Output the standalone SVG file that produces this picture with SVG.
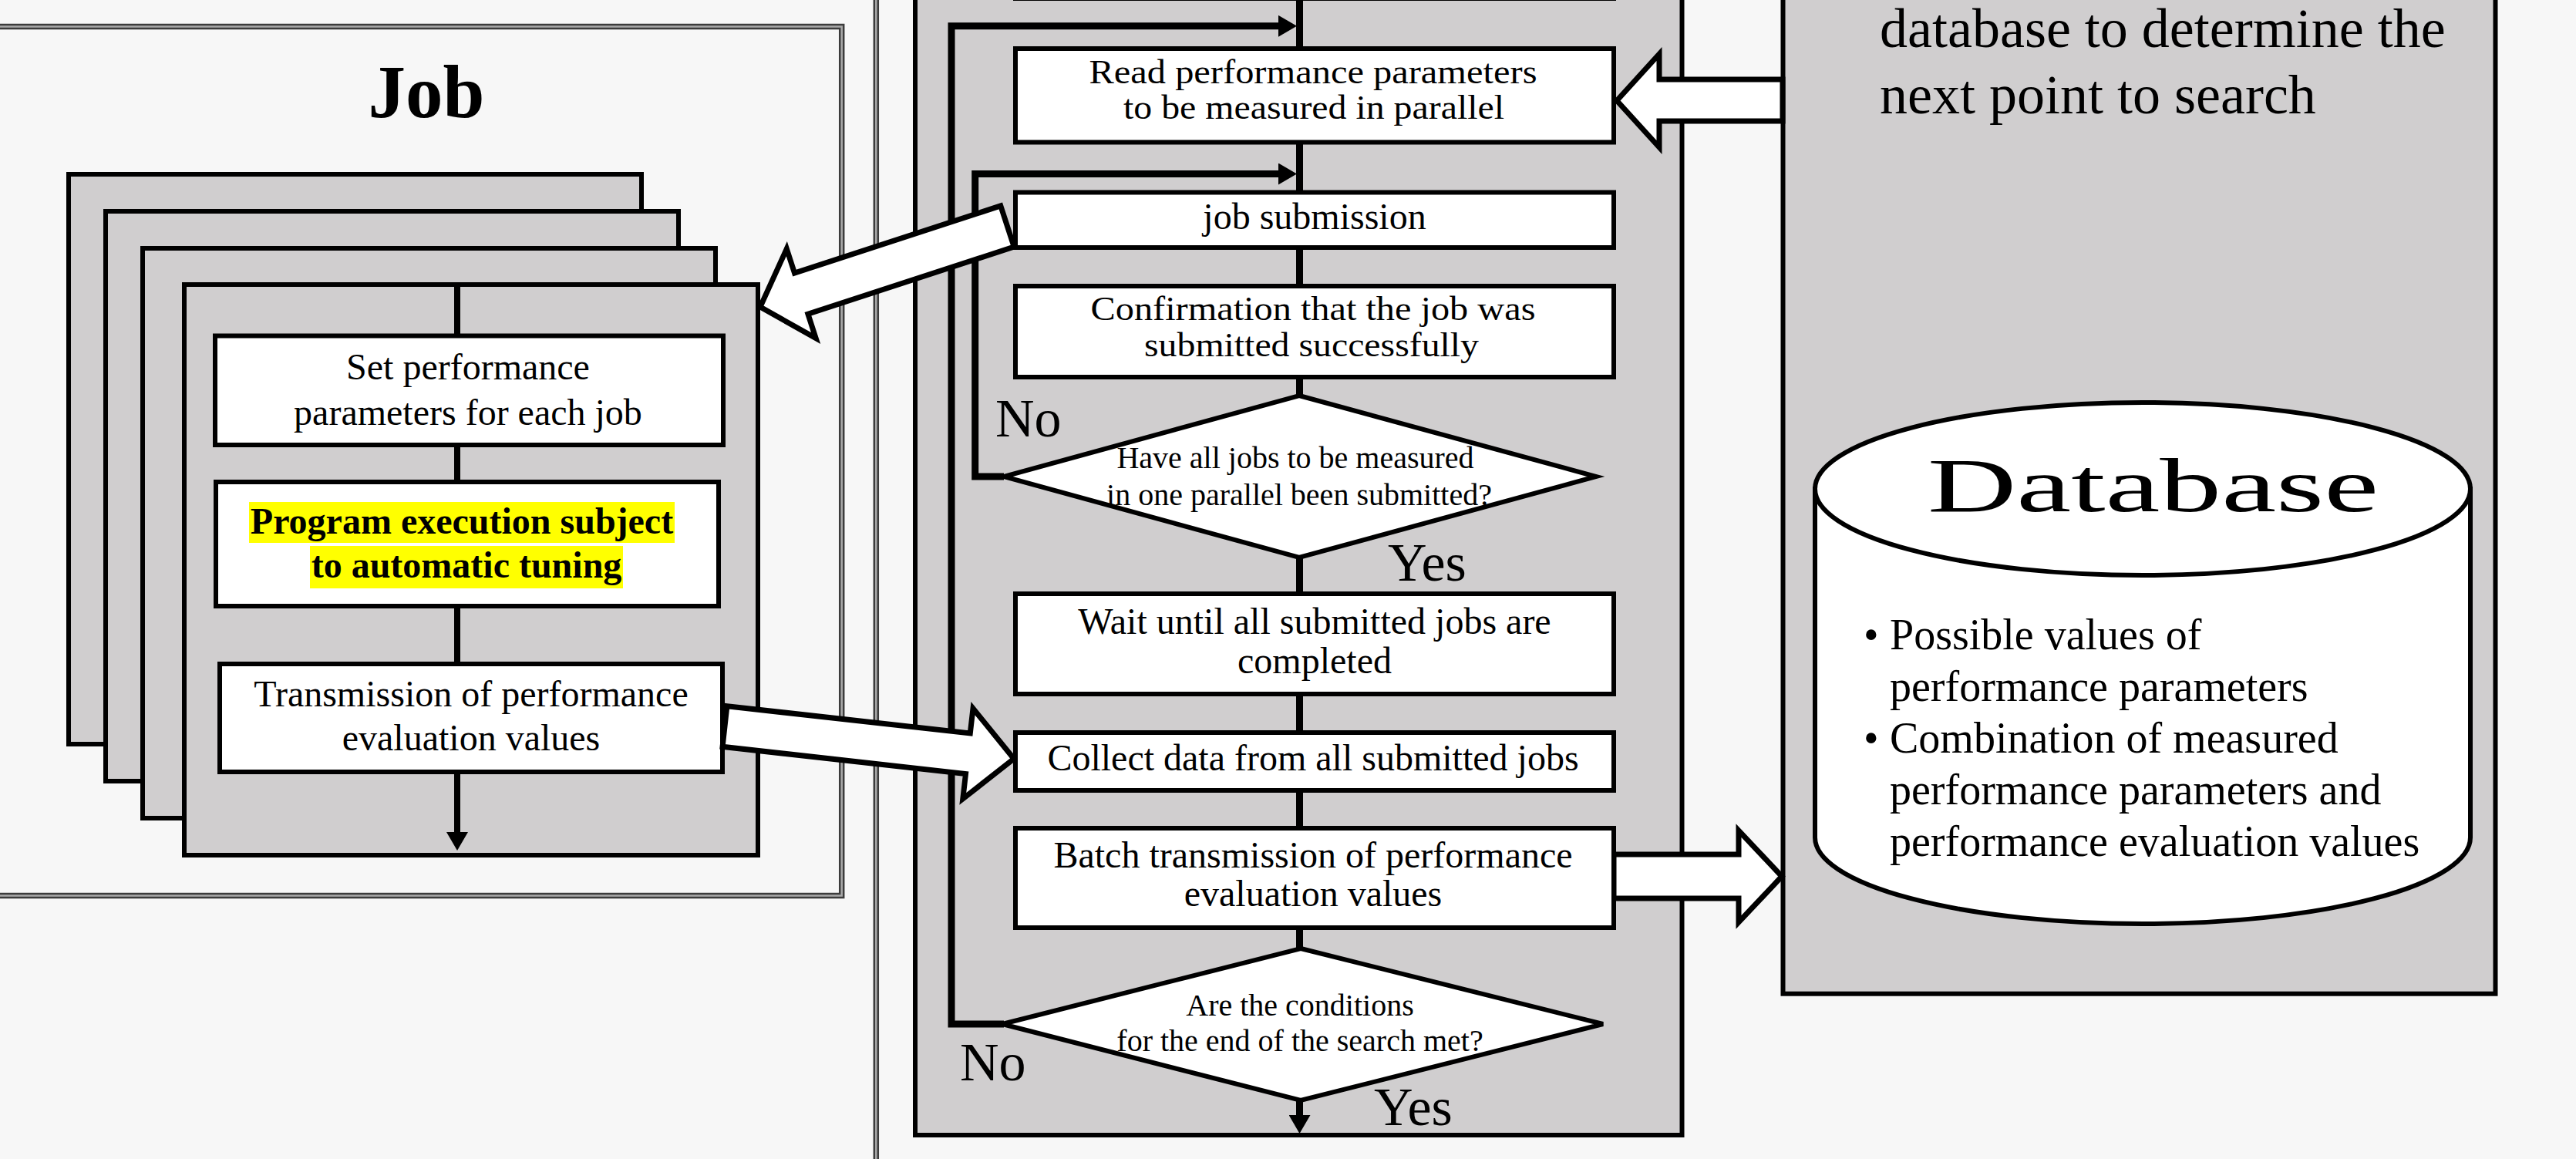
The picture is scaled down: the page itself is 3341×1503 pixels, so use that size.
<svg xmlns="http://www.w3.org/2000/svg" width="3341" height="1503" viewBox="0 0 3341 1503">
<defs>
<style>
.bg{fill:#f7f7f7}
.fo{fill:none;stroke:#3c3c3c;stroke-width:7.5}
.fi{fill:none;stroke:#a9a9a9;stroke-width:2.5}
.panel{fill:#d0cecf;stroke:#000;stroke-width:6}
.card{fill:#d0cecf;stroke:#000;stroke-width:6}
.box{fill:#fff;stroke:#000;stroke-width:6}
.dia{fill:#fff;stroke:#000;stroke-width:6;stroke-linejoin:miter}
.flow{fill:none;stroke:#000;stroke-width:9;stroke-linejoin:miter}
.cflow{fill:none;stroke:#000;stroke-width:8}
.hollow{fill:#fff;stroke:#000;stroke-width:7;stroke-linejoin:miter}
.t{font-family:"Liberation Serif","Times New Roman",serif;fill:#000}
.bt{font-size:48px;text-anchor:middle}
.st{font-size:44px;text-anchor:middle}
.dt{font-size:40px;text-anchor:middle}
.yn{font-size:70px}
.hl{fill:#ffff00}
.db{fill:#fff;stroke:#000;stroke-width:6}
</style>
<marker id="ah" markerUnits="userSpaceOnUse" markerWidth="24" markerHeight="28" viewBox="0 0 24 28" refX="2" refY="14" orient="auto"><path d="M0,0 L24,14 L0,28 z" fill="#000"/></marker>
</defs>

<rect class="bg" x="0" y="0" width="3341" height="1503"/>

<g id="frames">
  <rect class="fo" x="-20" y="34.5" width="1111.7" height="1127"/>
  <rect class="fi" x="-20" y="34.5" width="1111.7" height="1127"/>
  <line class="fo" x1="1136.3" y1="-10" x2="1136.3" y2="1513"/>
  <line class="fi" x1="1136.3" y1="-10" x2="1136.3" y2="1513"/>
</g>

<g id="panels">
  <rect class="panel" x="1187" y="-20" width="994.5" height="1492"/>
  <rect class="panel" x="2312.5" y="-20" width="924" height="1308.7"/>
</g>

<g id="job">
  <text class="t" x="553" y="152" font-size="97" font-weight="bold" text-anchor="middle">Job</text>
  <rect class="card" x="89" y="226" width="743" height="739"/>
  <rect class="card" x="137" y="274" width="743" height="739"/>
  <rect class="card" x="185" y="322" width="743" height="739"/>
  <rect class="card" x="239" y="369" width="744" height="740"/>
  <path class="cflow" d="M593,369 V1081" marker-end="url(#ah)"/>
</g>

<g id="job-set">
  <rect class="box" x="279" y="435.5" width="659" height="141.5"/>
  <text class="t bt" x="607" y="492">Set performance</text>
  <text class="t bt" x="607" y="551">parameters for each job</text>
</g>

<g id="job-exec">
  <rect class="box" x="280" y="625" width="652" height="161"/>
  <rect class="hl" x="323" y="651" width="552" height="53"/>
  <rect class="hl" x="402" y="708" width="406" height="55"/>
  <text class="t bt" x="599" y="692" font-weight="bold">Program execution subject</text>
  <text class="t bt" x="605" y="749" font-weight="bold">to automatic tuning</text>
</g>

<g id="job-transmit">
  <rect class="box" x="285" y="861" width="652" height="140"/>
  <text class="t bt" x="611" y="916">Transmission of performance</text>
  <text class="t bt" x="611" y="973">evaluation values</text>
</g>

<g id="connectors">
  <path class="flow" d="M1685.5,-5 V1448" marker-end="url(#ah)"/>
  <path class="flow" d="M1302,1328 H1234 V33.8 H1660" marker-end="url(#ah)"/>
  <path class="flow" d="M1302,618 H1264.7 V225.5 H1660" marker-end="url(#ah)"/>
  <polygon class="hollow" points="1297.8,266.9 1030.5,354 1020.3,322.6 986,398 1058.1,438.6 1047.9,407.2 1315.2,320.1"/>
  <polygon class="hollow" points="942.9,915.7 1258.3,951 1262,918.7 1315,984 1248.8,1035.9 1252.5,1003.6 937.1,968.3"/>
  <polygon class="hollow" points="2312,103 2152,103 2152,70 2097,130.5 2152,191 2152,157 2312,157"/>
  <polygon class="hollow" points="2093,1108 2255,1108 2255,1077 2311,1136.5 2255,1196 2255,1165 2093,1165"/>
</g>

<g id="prev-step">
  <rect class="box" x="1317" y="-120" width="776" height="118"/>
</g>

<g id="read">
  <rect class="box" x="1317" y="63" width="776" height="121.5"/>
  <text class="t st" x="1703" y="108" textLength="581" lengthAdjust="spacingAndGlyphs">Read performance parameters</text>
  <text class="t st" x="1704" y="154" textLength="494" lengthAdjust="spacingAndGlyphs">to be measured in parallel</text>
</g>

<g id="submit">
  <rect class="box" x="1317" y="249.5" width="776" height="71.5"/>
  <text class="t bt" x="1705" y="297">job submission</text>
</g>

<g id="confirm">
  <rect class="box" x="1317" y="371" width="776" height="118"/>
  <text class="t st" x="1703" y="415" textLength="577" lengthAdjust="spacingAndGlyphs">Confirmation that the job was</text>
  <text class="t st" x="1701" y="462" textLength="434" lengthAdjust="spacingAndGlyphs">submitted successfully</text>
</g>

<g id="decision1">
  <polygon class="dia" points="1685,513 2070,618 1685,723 1302,618"/>
  <text class="t dt" x="1680" y="607">Have all jobs to be measured</text>
  <text class="t dt" x="1685" y="655">in one parallel been submitted?</text>
  <text class="t yn" x="1291" y="566">No</text>
  <text class="t yn" x="1800" y="753">Yes</text>
</g>

<g id="wait">
  <rect class="box" x="1317" y="770" width="776" height="130"/>
  <text class="t bt" x="1705" y="822">Wait until all submitted jobs are</text>
  <text class="t bt" x="1705" y="873">completed</text>
</g>

<g id="collect">
  <rect class="box" x="1317" y="950" width="776" height="75"/>
  <text class="t bt" x="1703" y="999">Collect data from all submitted jobs</text>
</g>

<g id="batch">
  <rect class="box" x="1317" y="1074" width="776" height="129"/>
  <text class="t bt" x="1703" y="1125">Batch transmission of performance</text>
  <text class="t bt" x="1703" y="1175">evaluation values</text>
</g>

<g id="decision2">
  <polygon class="dia" points="1687,1230 2079,1328 1687,1427 1300,1328"/>
  <text class="t dt" x="1686" y="1317">Are the conditions</text>
  <text class="t dt" x="1686" y="1363">for the end of the search met?</text>
  <text class="t yn" x="1245" y="1401">No</text>
  <text class="t yn" x="1782" y="1459">Yes</text>
</g>

<g id="search">
  <text class="t" x="2438" y="60.5" font-size="72">database to determine the</text>
  <text class="t" x="2438" y="147" font-size="72">next point to search</text>
</g>

<g id="database">
  <path class="db" d="M2354,634 L2354,1086 A425,112 0 0 0 3204,1086 L3204,634 Z"/>
  <ellipse class="db" cx="2779" cy="634" rx="425" ry="112"/>
  <text class="t" x="2500" y="663" font-size="100" textLength="585" lengthAdjust="spacingAndGlyphs">Database</text>
  <g class="t" font-size="56">
    <text x="2417" y="842">•</text>
    <text x="2451" y="842">Possible values of</text>
    <text x="2451" y="909">performance parameters</text>
    <text x="2417" y="976">•</text>
    <text x="2451" y="976">Combination of measured</text>
    <text x="2451" y="1043">performance parameters and</text>
    <text x="2451" y="1110">performance evaluation values</text>
  </g>
</g>
</svg>
